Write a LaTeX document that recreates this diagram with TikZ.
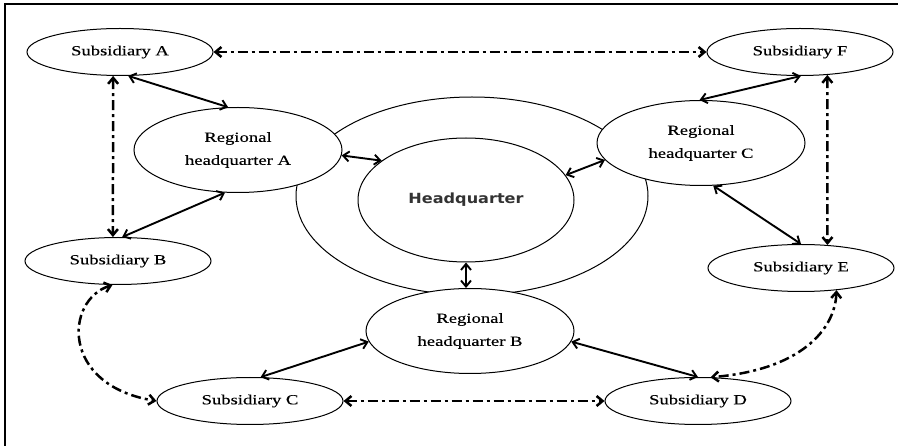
\documentclass[tikz,border=0pt]{standalone}
\usepackage{fontspec}
\setmainfont{Liberation Serif}[FakeStretch=1.33,FakeBold=0.3]
\newfontfamily\hqfont{DejaVu Sans}[FakeStretch=1.15]
\usetikzlibrary{shapes.geometric,arrows.meta}
\definecolor{hqgray}{HTML}{333333}
\tikzset{
  ell/.style={ellipse, draw, line width=1pt, fill=white, inner sep=0pt,
    font=\fontsize{14}{23}\selectfont, align=center},
  sub/.style={ell, minimum width=186pt, minimum height=47pt},
  reg/.style={ell, minimum width=208pt, minimum height=85pt},
  tipb/.tip={Straight Barb[length=6pt,width=10pt]},
  solidlink/.style={line width=1.9pt, tipb-tipb},
  dashlink/.style={line width=2.5pt, dash pattern=on 10pt off 4pt on 3pt off 4pt, tipb-tipb}
}
\begin{document}
\begin{tikzpicture}[x=1pt,y=-1pt]
\useasboundingbox (0,0) rectangle (898,446);
% frame (top and left)
\draw[line width=1.6pt] (5,446) -- (5,4) -- (898,4);
% outer ring and headquarter
\node[ellipse, draw, line width=1pt, minimum width=352pt, minimum height=198pt, inner sep=0pt] (ring) at (472,196) {};
\node[ellipse, draw, line width=1pt, minimum width=216pt, minimum height=124pt, inner sep=0pt,
  font=\hqfont\bfseries\fontsize{14}{16}\selectfont, text=hqgray] (hq) at (466,200) {Headquarter};
% regional headquarters
\node[reg] (ra) at (238,150) {Regional\\headquarter A};
\node[reg] (rc) at (701,143) {Regional\\headquarter C};
\node[reg] (rb) at (470,331) {Regional\\headquarter B};
% subsidiaries
\node[sub] (sa) at (120,52) {Subsidiary A};
\node[sub] (sf) at (800,52) {Subsidiary F};
\node[sub] (sb) at (118,261) {Subsidiary B};
\node[sub] (se) at (801,268) {Subsidiary E};
\node[sub] (sc) at (250,401) {Subsidiary C};
\node[sub] (sd) at (698,401) {Subsidiary D};
% solid links
\draw[solidlink] (sa.-71) -- (ra.103);
\draw[solidlink] (ra.-107) -- (sb.80);
\draw[solidlink] (ra.-3) -- (hq.155);
\draw[solidlink] (rc.190) -- (hq.14);
\draw[solidlink] (sf.-88) -- (rc.92);
\draw[solidlink] (rc.-74) -- (se.90);
\draw[solidlink] (hq.south) -- (hq.south |- rb.north);
\draw[solidlink] (rb.186) -- (sc.66);
\draw[solidlink] (rb.-6) -- (sd.90);
% dash-dot links
\draw[dashlink] (sa.east) -- (sf.west);
\draw[dashlink] (sa.-106) -- (sb.102);
\draw[dashlink] (sf.-40) -- (se.41);
\draw[dashlink] (sc.east) -- (sd.west);
\draw[dashlink] (sb.-103) .. controls (65,300) and (60,385) .. (sc.west);
\draw[dashlink] (se.-32) .. controls (835,330) and (800,370) .. (sd.62);
\end{tikzpicture}
\end{document}
